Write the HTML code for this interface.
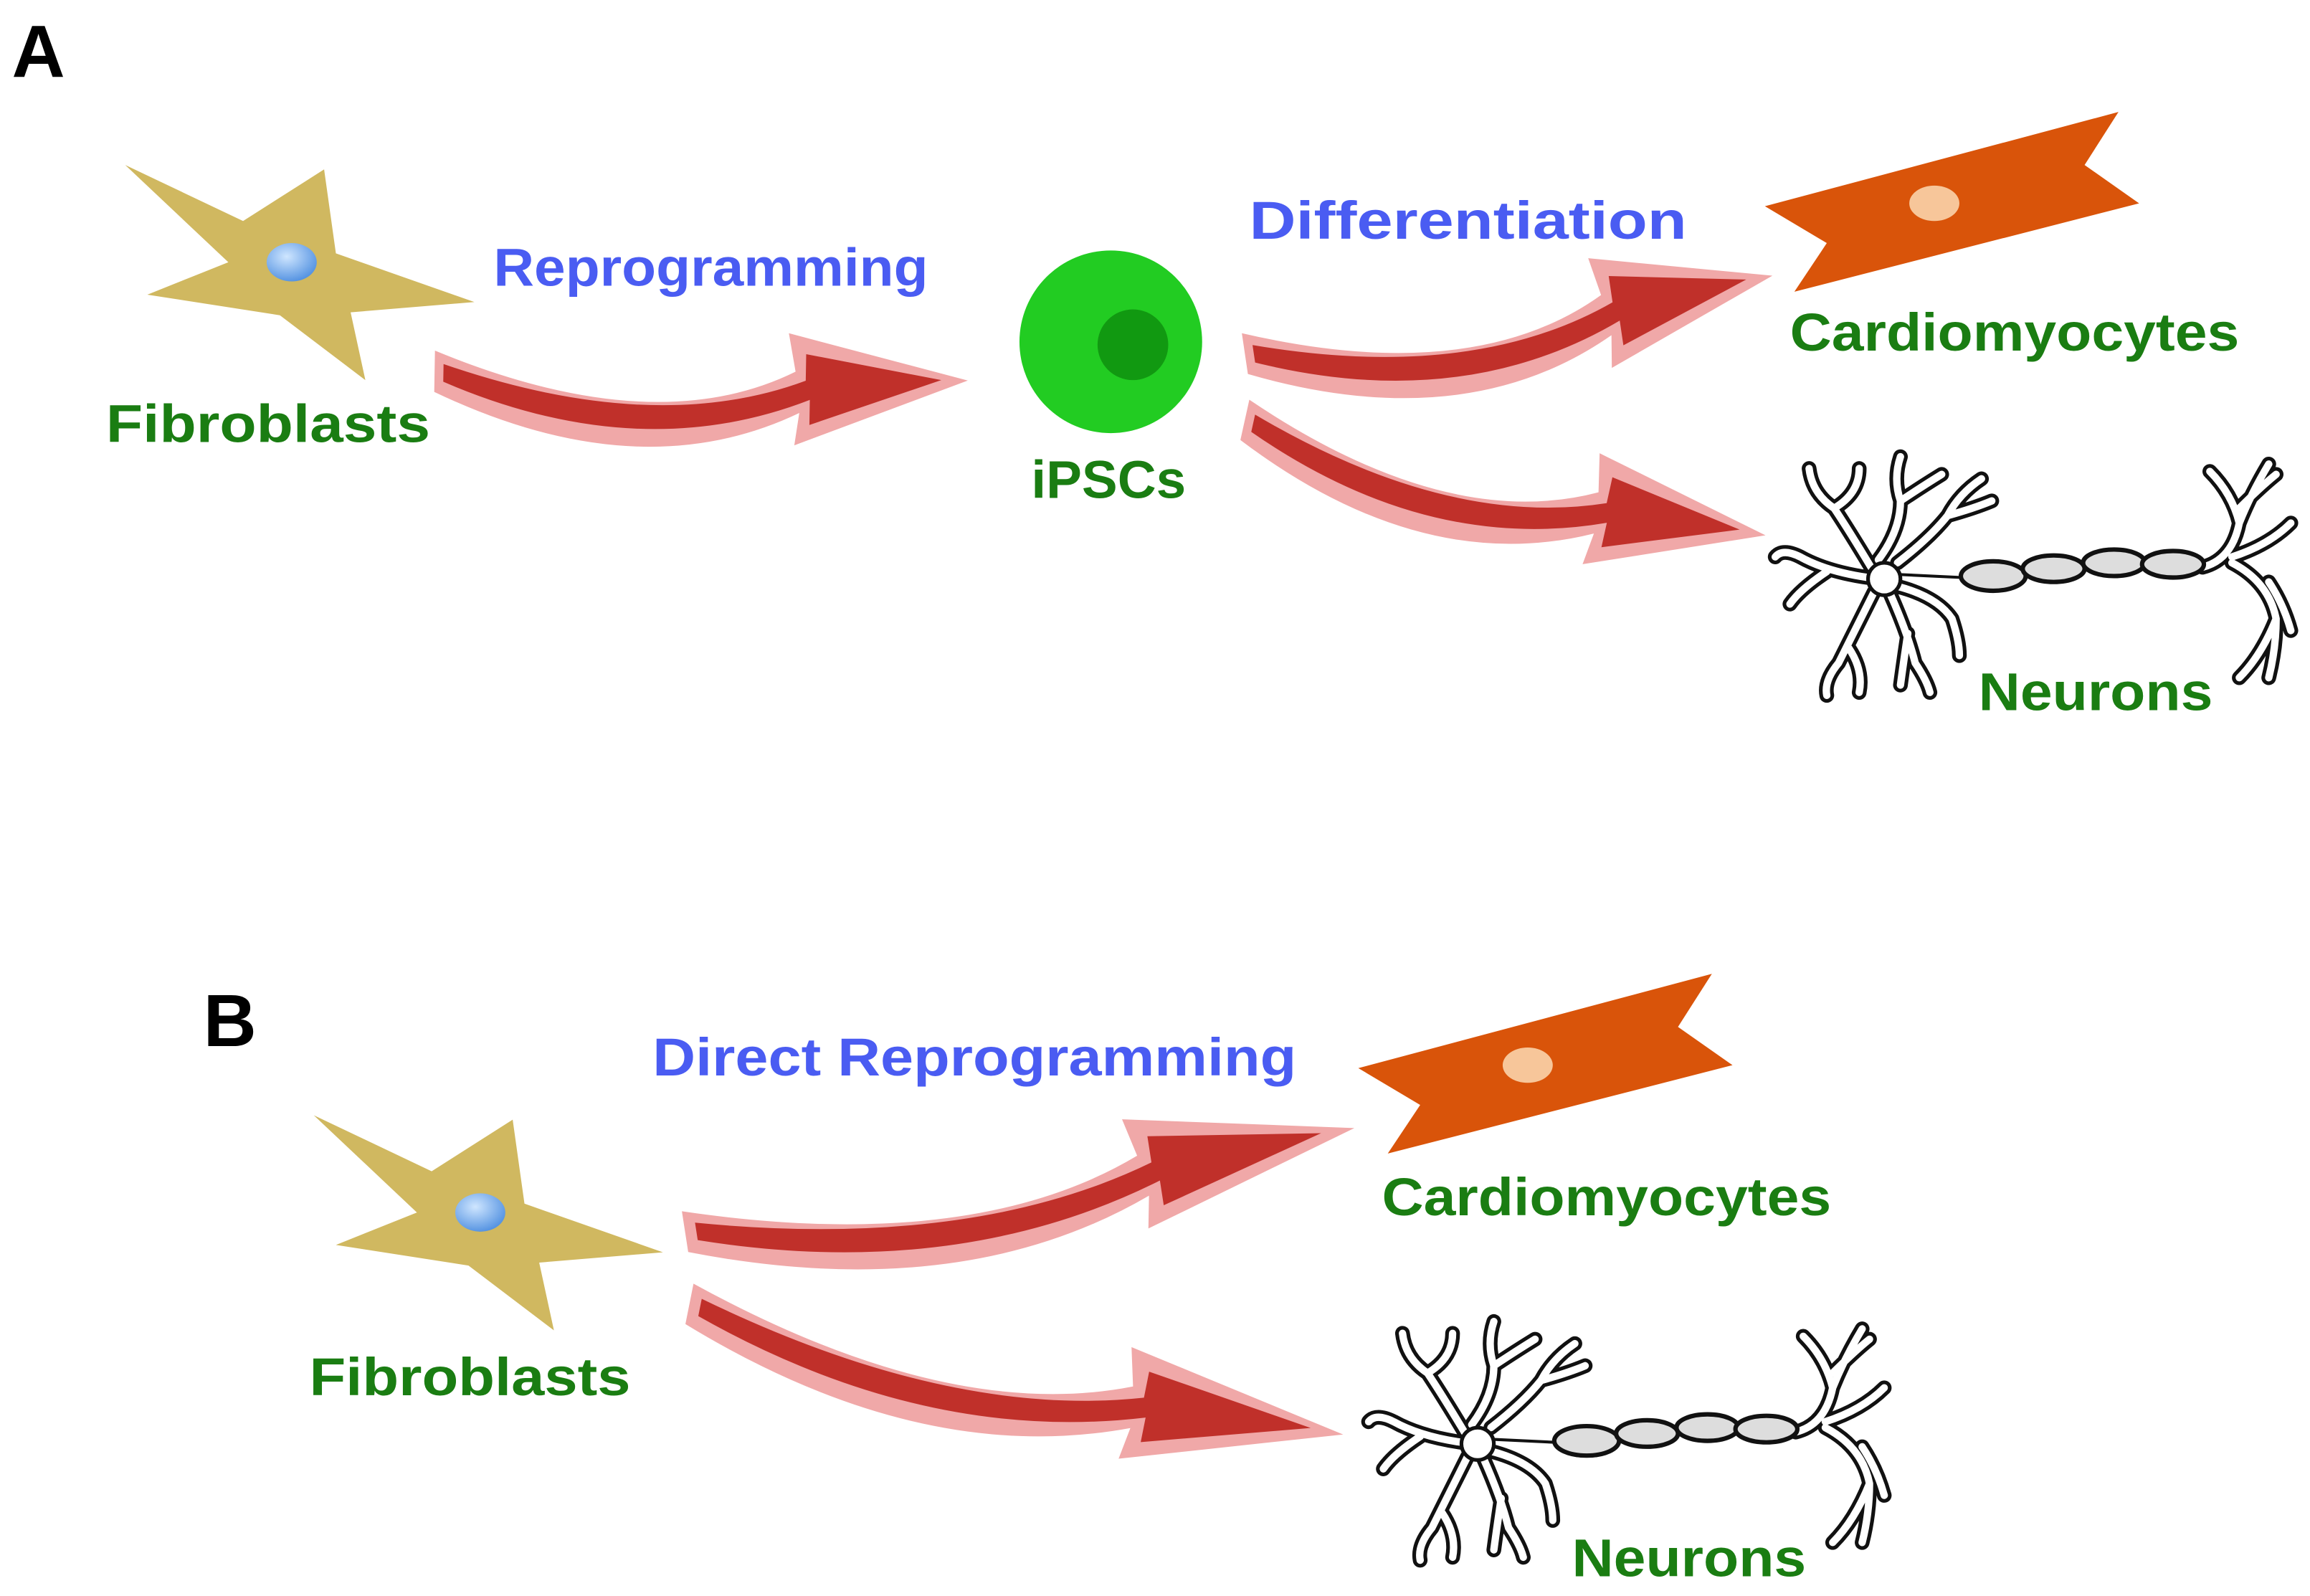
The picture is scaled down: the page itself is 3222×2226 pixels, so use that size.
<!DOCTYPE html>
<html><head><meta charset="utf-8"><style>
html,body{margin:0;padding:0;background:#fff;}
svg{display:block;}
text{font-family:"Liberation Sans",sans-serif;font-weight:bold;}
</style></head><body>
<svg width="3222" height="2226" viewBox="0 0 1568 1083.3" preserveAspectRatio="none" xmlns="http://www.w3.org/2000/svg">
<defs>
<radialGradient id="nuc" cx="40%" cy="35%" r="70%"><stop offset="0" stop-color="#cfe6ff"/><stop offset="1" stop-color="#4f8fe0"/></radialGradient>
<g id="star">
<polygon points="85,112 165,150 220,115 228,172 322,205 238,212 248,258 190,214 100,200 155,178" fill="#d0b860"/>
<ellipse cx="198" cy="178" rx="17" ry="13" fill="url(#nuc)"/>
</g>
<g id="arrow">
<path d="M0,-14 Q150,45 245,-4 L240,-30 L362,0 L245,46 L248,24 Q140,78 0,14 Z" fill="#f0a8a8"/>
<path d="M6,-5 Q150,42 252,2 L252,-16 L344,0 L255,32 L255,15 Q140,62 6,7 Z" fill="#c0302a"/>
</g>
<g id="cardio">
<polygon points="1198,140 1438,76 1415,112 1452,138 1218,198 1240,165" fill="#d9540a"/>
<ellipse cx="1313" cy="138" rx="17" ry="12" fill="#f7c69a"/>
</g>
<g id="neuron" fill="none" stroke-linecap="round" stroke-linejoin="round">
<g stroke="#111" stroke-width="10">
<path id="dd" d="M1270,385 Q1255,360 1245,345 Q1230,335 1228,318 M1245,345 Q1262,335 1262,318 M1275,380 Q1290,360 1290,340 Q1285,325 1290,310 M1290,340 Q1305,330 1318,322 M1288,382 Q1310,365 1322,350 Q1340,345 1352,340 M1322,350 Q1330,335 1345,325 M1268,392 Q1240,388 1222,378 Q1210,372 1205,378 M1240,388 Q1222,400 1215,410 M1272,402 Q1258,430 1248,450 Q1238,462 1240,472 M1255,440 Q1265,455 1262,470 M1283,403 Q1295,430 1300,450 Q1308,462 1310,470 M1295,430 Q1292,450 1290,465 M1288,398 Q1315,405 1325,420 Q1330,435 1330,445 M1495,385 Q1515,380 1520,355 Q1515,335 1500,320 M1520,355 Q1528,335 1540,315 M1520,345 Q1535,330 1545,322 M1515,378 Q1540,370 1555,355 M1515,382 Q1540,395 1545,420 Q1535,445 1520,460 M1540,395 Q1550,410 1555,428 M1545,420 Q1545,440 1540,460"/>
</g>
<g stroke="#fff" stroke-width="5"><use href="#dd"/></g>
<circle cx="1279" cy="393" r="11" fill="#fff" stroke="#111" stroke-width="2.5"/>
<path d="M1290,390 L1332,392" stroke="#111" stroke-width="2"/>
<g fill="#ddd" stroke="#111" stroke-width="3">
<ellipse cx="1353" cy="391" rx="22" ry="10"/>
<ellipse cx="1394" cy="386" rx="21" ry="9"/>
<ellipse cx="1435" cy="382" rx="21" ry="9"/>
<ellipse cx="1475" cy="383" rx="21" ry="9"/>
</g>
</g>
</defs>
<rect width="1568" height="1083.3" fill="#fff"/>
<text x="8" y="52" font-size="50" fill="#000">A</text>
<use href="#star"/>
<text x="72" y="300" font-size="36" fill="#1a7d12" textLength="220" lengthAdjust="spacingAndGlyphs">Fibroblasts</text>
<text x="335" y="194" font-size="36" fill="#4a5cf2" textLength="295" lengthAdjust="spacingAndGlyphs">Reprogramming</text>
<use href="#arrow" transform="translate(295,252) rotate(1)"/>
<circle cx="754" cy="232" r="62" fill="#22cc22"/>
<circle cx="769" cy="234" r="24" fill="#119911"/>
<text x="700" y="338" font-size="36" fill="#1a7d12" textLength="105" lengthAdjust="spacingAndGlyphs">iPSCs</text>
<text x="848" y="162" font-size="36" fill="#4a5cf2" textLength="297" lengthAdjust="spacingAndGlyphs">Differentiation</text>
<use href="#arrow" transform="translate(845,240) rotate(-8.4)"/>
<use href="#arrow" transform="translate(845,285) rotate(12.5)"/>
<use href="#cardio"/>
<text x="1215" y="238" font-size="36" fill="#1a7d12" textLength="305" lengthAdjust="spacingAndGlyphs">Cardiomyocytes</text>
<use href="#neuron"/>
<text x="1343" y="482" font-size="36" fill="#1a7d12" textLength="159" lengthAdjust="spacingAndGlyphs">Neurons</text>

<text x="138" y="710" font-size="50" fill="#000">B</text>
<use href="#star" transform="translate(128,645)"/>
<text x="210" y="947" font-size="36" fill="#1a7d12" textLength="218" lengthAdjust="spacingAndGlyphs">Fibroblasts</text>
<text x="443" y="730" font-size="36" fill="#4a5cf2" textLength="437" lengthAdjust="spacingAndGlyphs">Direct Reprogramming</text>
<use href="#arrow" transform="translate(465,836) rotate(-8.8) scale(1.27,1)"/>
<use href="#arrow" transform="translate(468,885) rotate(11.3) scale(1.25,1)"/>
<use href="#cardio" transform="translate(-276,585)"/>
<text x="938" y="825" font-size="36" fill="#1a7d12" textLength="305" lengthAdjust="spacingAndGlyphs">Cardiomyocytes</text>
<use href="#neuron" transform="translate(-276,587)"/>
<text x="1067" y="1070" font-size="36" fill="#1a7d12" textLength="159" lengthAdjust="spacingAndGlyphs">Neurons</text>
</svg>
</body></html>
